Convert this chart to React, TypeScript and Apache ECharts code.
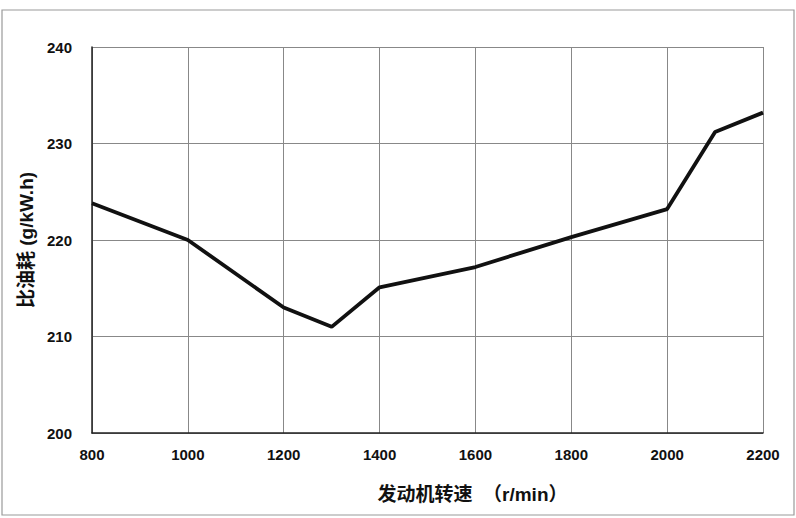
import React, { useEffect, useRef } from "react";
import * as echarts from "echarts";

const speeds = [800, 1000, 1200, 1300, 1400, 1600, 1800, 2000, 2100, 2200];
const consumption = [223.8, 220, 213, 211, 215.1, 217.2, 220.3, 223.2, 231.2, 233.2];
const xTicks = [800, 1000, 1200, 1400, 1600, 1800, 2000, 2200];
const yTicks = [200, 210, 220, 230, 240];
const xName = "发动机转速  （r/min）";
const yName = "比油耗 (g/kW.h)";

export default function App() {
  const ref = useRef<HTMLDivElement>(null);
  useEffect(() => {
    document.body.style.margin = "0";
    const chart = echarts.init(ref.current!, null, { renderer: "svg" });
    const font = "'Liberation Sans', Arial, 'Noto Sans CJK SC', sans-serif";
    chart.setOption({
      animation: false,
      backgroundColor: "#ffffff",
      graphic: [
        {
          type: "rect",
          shape: { x: 2, y: 10, width: 792, height: 505 },
          style: { fill: "none", stroke: "#9a9a9a", lineWidth: 1.2 },
          silent: true,
        },
      ],
      grid: { left: 92, right: 33, top: 47, bottom: 85 },
      xAxis: {
        type: "value",
        min: xTicks[0],
        max: xTicks[xTicks.length - 1],
        interval: 200,
        name: xName,
        nameLocation: "middle",
        nameGap: 52,
        nameTextStyle: {
          fontFamily: font,
          fontWeight: "bold",
          fontSize: 19,
          color: "#111",
          padding: [0, 0, 0, 90],
        },
        axisLine: { show: true, lineStyle: { color: "#222", width: 1.5 } },
        axisTick: { show: false },
        axisLabel: {
          fontFamily: font,
          fontWeight: "bold",
          fontSize: 15,
          color: "#111",
          margin: 14,
          formatter: (v: number) => String(v),
        },
        splitLine: { show: true, lineStyle: { color: "#888", width: 1 } },
      },
      yAxis: {
        type: "value",
        min: yTicks[0],
        max: yTicks[yTicks.length - 1],
        interval: 10,
        name: yName,
        nameLocation: "middle",
        nameGap: 56,
        nameRotate: 90,
        nameTextStyle: { fontFamily: font, fontWeight: "bold", fontSize: 19, color: "#111" },
        axisLine: { show: true, lineStyle: { color: "#222", width: 1.5 } },
        axisTick: { show: false },
        axisLabel: {
          fontFamily: font,
          fontWeight: "bold",
          fontSize: 15,
          color: "#111",
          margin: 20,
          formatter: (v: number) => String(v),
        },
        splitLine: { show: true, lineStyle: { color: "#888", width: 1 } },
      },
      series: [
        {
          type: "line",
          data: speeds.map((s, i) => [s, consumption[i]]),
          showSymbol: false,
          lineStyle: { color: "#111", width: 3.8 },
        },
      ],
    });
    return () => chart.dispose();
  }, []);
  return (
    <div
      ref={ref}
      style={{ position: "fixed", left: 0, top: 0, width: 796, height: 518 }}
    />
  );
}
